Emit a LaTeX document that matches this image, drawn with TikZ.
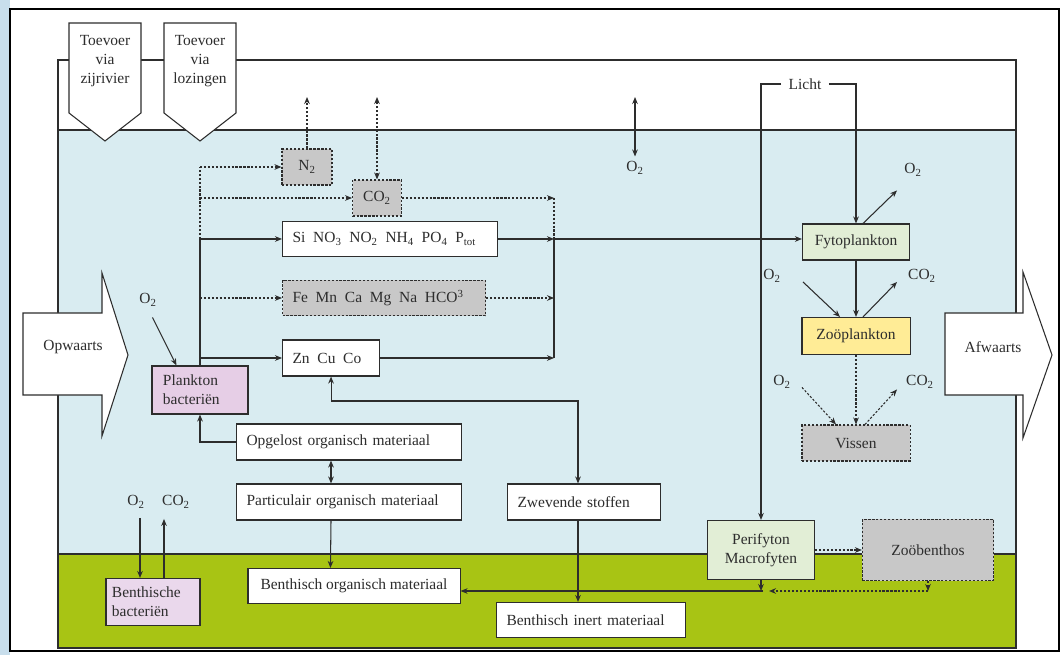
\documentclass[tikz,border=0pt]{standalone}
\usepackage{fontspec}
\setmainfont{Liberation Serif}
\usetikzlibrary{calc,arrows.meta}
\definecolor{water}{RGB}{217,236,241}
\definecolor{bodem}{RGB}{168,196,20}
\definecolor{grijs}{RGB}{200,200,200}
\definecolor{lijn}{RGB}{45,45,45}
\definecolor{groen}{RGB}{226,238,214}
\definecolor{geel}{RGB}{255,236,150}
\definecolor{roze}{RGB}{230,206,230}
\definecolor{lila}{RGB}{234,216,236}
\definecolor{foto}{RGB}{200,222,236}
\begin{document}
\begin{tikzpicture}[>={Stealth[length=5pt,width=4pt]}, x=0.025cm, y=-0.025cm, color=lijn, line width=0.75pt,
  font=\fontsize{11}{13.5}\selectfont,
  dotline/.style={dash pattern=on 1.6pt off 1.2pt},
  box/.style={draw=lijn, fill=white, minimum height=0.9cm, inner sep=0pt},
  gas/.style={fill=grijs, dotline},
  stof/.style={box, anchor=west, align=left, inner xsep=0.25cm}]
\useasboundingbox (0,0) rectangle (1064,655);
% achtergrond
\fill[white] (0,0) rectangle (1064,655);
\fill[foto] (0,0) rectangle (10,655);
\draw[black, line width=2pt] (10,9) rectangle (1059,651);
\draw[fill=white] (58,60) rectangle (1016,130);
\draw[fill=water] (58,130) rectangle (1016,554);
\draw[fill=bodem] (58,554) rectangle (1016,648);
% toevoer, op- en afwaarts
\foreach \x/\t in {105/zijrivier,200/lozingen}
{
    \draw[fill=white](\x-36,23)--(\x+36,23)--(\x+36,113)--(\x,141)--(\x-36,113)--cycle;
    \node[align=center] (toevoer-\t) at (\x,61) {Toevoer\\via\\\t};
}
\draw[fill=white](23,313)--(102,313)--(102,273)--(128,355)--(102,436)--(102,395)--(23,395)--cycle;
\node (opwaarts) at (73,347) {Opwaarts};
\draw[fill=white](945,313)--(1023,313)--(1023,272)--(1052,355)--(1023,438)--(1023,395)--(945,395)--cycle;
\node (afwaarts) at (993,347) {Afwaarts};
% stoffen
\node[box, gas, minimum width=1.25cm] (n2) at (307,167) {N\textsubscript{2}};
\node[box, gas, minimum width=1.22cm] (co2) at (377,198) {CO\textsubscript{2}};
\node[stof, text width=4.875cm, minimum height=0.875cm] (si) at (282,239) {Si\enspace NO\textsubscript{3}\enspace NO\textsubscript{2}\enspace NH\textsubscript{4}\enspace PO\textsubscript{4}\enspace P\textsubscript{tot}};
\node[stof, gas, text width=4.575cm, minimum height=0.875cm] (fe) at (282,298) {Fe\enspace Mn\enspace Ca\enspace Mg\enspace Na\enspace HCO\textsuperscript{3}};
\node[stof, text width=1.925cm] (zn) at (282,358) {Zn\enspace Cu\enspace Co};
\node[box, fill=roze, align=left, text width=1.85cm, inner xsep=0.275cm, minimum height=1.2cm] (plank) at (200,390) {Plankton\\bacteriën};
\node[stof, text width=5.125cm] (opg) at (236,442) {Opgelost organisch materiaal};
\node[stof, text width=5.125cm] (part) at (236,502) {Particulair organisch materiaal};
\node[box, minimum width=5.3cm, minimum height=0.875cm] (borg) at (354,586) {Benthisch organisch materiaal};
\node[stof, text width=3.325cm] (zwev) at (507,502) {Zwevende stoffen};
\node[stof, text width=4.225cm, minimum height=0.875cm] (binert) at (496,620) {Benthisch inert materiaal};
\node[box, fill=lila, align=left, text width=2.05cm, inner xsep=0.15cm, minimum height=1.175cm] (bbact) at (153,602) {Benthische\\bacteriën};
% organismen
\node[box, fill=groen, minimum width=2.675cm] (fyto) at (856,242) {Fytoplankton};
\node[box, fill=geel, minimum width=2.7cm, minimum height=0.925cm] (zoo) at (856,336) {Zoöplankton};
\node[box, gas, minimum width=2.7cm] (vissen) at (856,443) {Vissen};
\node[box, fill=groen, align=center, minimum width=2.675cm, minimum height=1.475cm] (peri) at (761,550) {Perifyton\\Macrofyten};
\node[box, gas, minimum width=3.275cm, minimum height=1.525cm] (zoob) at (928,550) {Zoöbenthos};
% gassen en licht
\node (o2top) at (635,168) {O\textsubscript{2}};
\node (o2plank) at (148,300) {O\textsubscript{2}};
\node (o2fyto) at (913,170) {O\textsubscript{2}};
\node (o2zoo) at (772,276) {O\textsubscript{2}};
\node (co2zoo) at (922,276) {CO\textsubscript{2}};
\node (o2vis) at (782,382) {O\textsubscript{2}};
\node (co2vis) at (920,382) {CO\textsubscript{2}};
\node (o2bb) at (136,502) {O\textsubscript{2}};
\node (co2bb) at (176,502) {CO\textsubscript{2}};
\node[inner xsep=5pt] (licht) at (805,84) {Licht};
% uitwisseling met de lucht
\coordinate (lucht) at (0,97);
\draw[dotline,->] (n2.north) -- (n2.north |- lucht);
\draw[dotline,<->] (co2.north) -- (co2.north |- lucht);
\draw[<->] (o2top.north) -- (o2top.north |- lucht);
% verdeling vanuit bacterien
\draw (plank.north) -- (plank.north |- si.west);
\draw[dotline] (plank.north |- si.west) -- (plank.north |- n2.west);
\foreach \n/\s in {n2/dotline,co2/dotline,si/solid,fe/dotline,zn/solid}
{
    \draw[\s,->] (plank.north |- \n.west) -- (\n.west);
}
\coordinate (verz) at (554,0);
\foreach \n/\s in {co2/dotline,si/solid,fe/dotline,zn/solid}
{
    \draw[\s,->] (\n.east) -- (\n.east -| verz);
}
\draw[dotline] (co2.east -| verz) -- (si.east -| verz);
\draw (si.east -| verz) -- (zn.east -| verz);
\draw[->] (si.east -| verz) -- (si.east -| fyto.west);
\draw[->] ($(plank.north west)+(1,-48)$) -- ($(plank.north west)+(25,0)$);
% organisch materiaal
\draw[->] (opg.west) -| (plank.south);
\draw[<->] ($(opg.south west)+(95,0)$) -- ($(part.north west)+(95,0)$);
\draw[->] ($(part.south west)+(95,0)$) -- ($(borg.north west)+(83,0)$);
\coordinate (zw) at (578,401);
\draw[<->] (zn.south) |- (zw) -- (zw |- zwev.north);
\draw[->] (zw |- zwev.south) -- (zw |- binert.north);
% voedselketen
\draw[->] (licht.west) -| (peri.north);
\draw[->] (licht.east) -| (fyto.north);
\draw[->] ($(fyto.north)+(7,0)$) -- ($(fyto.north)+(41,-33)$);
\draw[->] (fyto.south) -- (zoo.north);
\draw[->] ($(zoo.north)+(-53,-35)$) -- ($(zoo.north)+(-16,0)$);
\draw[->] ($(zoo.north)+(7,0)$) -- ($(zoo.north)+(41,-35)$);
\draw[dotline,->] (zoo.south) -- (vissen.north);
\draw[dotline,->] ($(vissen.north)+(-54,-37)$) -- ($(vissen.north)+(-20,0)$);
\draw[dotline,->] ($(vissen.north)+(9,0)$) -- ($(vissen.north)+(41,-35)$);
% bodem
\coordinate (bodemlijn) at (763,591);
\draw[dotline,->] (peri.east) -- (zoob.west);
\draw[->] (peri.south) -- (peri.south |- bodemlijn);
\draw[->] (bodemlijn) -- (bodemlijn -| borg.east);
\draw[dotline,->] (zoob.south) -- (zoob.south |- bodemlijn);
\draw[dotline,->] (zoob.south |- bodemlijn) -- ($(bodemlijn)+(6,0)$);
\draw[->] ($(bbact.north)+(-13,-60)$) -- ($(bbact.north)+(-13,0)$);
\draw[->] ($(bbact.north)+(11,0)$) -- ($(bbact.north)+(11,-59)$);
\end{tikzpicture}
\end{document}
